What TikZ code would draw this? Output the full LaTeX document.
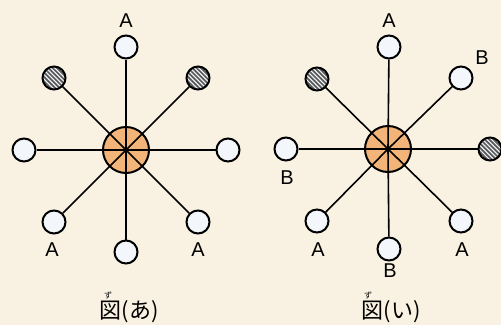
\documentclass[tikz,border=0pt]{standalone}
\usepackage{fontspec}
\setmainfont{Liberation Sans}
\newfontfamily\jp{Noto Sans CJK JP}
\definecolor{bg}{HTML}{F9F2E2}
\definecolor{hub}{HTML}{F2B478}
\definecolor{leaf}{HTML}{F3F6FA}
\definecolor{stripe}{HTML}{5A5A5A}
\begin{document}
\begin{tikzpicture}[x=1pt,y=-1pt,
  hubc/.style={circle,draw=black,line width=2pt,fill=hub,minimum size=46pt,inner sep=0pt},
  dot/.style={circle,fill=black,minimum size=4pt,inner sep=0pt},
  leafc/.style={circle,draw=black,line width=2pt,fill=leaf,minimum size=23pt,inner sep=0pt},
  hatchc/.style={circle,draw=black,line width=2pt,fill=leaf,minimum size=23pt,inner sep=0pt,
    path picture={\begin{scope}[shift={(path picture bounding box.center)}]
      \foreach \d in {-22,-17.6,...,22} \draw[stripe,line width=1.7pt] (\d-15,-15) -- (\d+15,15);
    \end{scope}}},
  spoke/.style={line width=1.6pt},
  lbl/.style={font=\fontsize{20}{20}\selectfont,inner sep=0pt},
  captext/.style={font=\jp\fontsize{22}{22}\selectfont,inner sep=0pt},
  ruby/.style={font=\jp\fontsize{8}{8}\selectfont,inner sep=0pt}]
\fill[bg] (0,0) rectangle (501,325);
\useasboundingbox (0,0) rectangle (501,325);
% ---- left figure
\node[hubc] (c1) at (126,150) {};
\node[leafc] (a1n) at (126,47) {};
\node[leafc] (a1s) at (126,252) {};
\node[leafc] (a1w) at (24,150) {};
\node[leafc] (a1e) at (228,150) {};
\node[hatchc] (a1nw) at (54,78) {};
\node[hatchc] (a1ne) at (198,78) {};
\node[leafc] (a1sw) at (54,222) {};
\node[leafc] (a1se) at (198,222) {};
\foreach \n in {a1n,a1s,a1w,a1e,a1nw,a1ne,a1sw,a1se} \draw[spoke] (c1.center) -- (\n);
\node[dot] (d1) at (c1.center) {};
\node[lbl] (la1) at (126,21) {A};
\node[lbl] (la2) at (52,250) {A};
\node[lbl] (la3) at (198,250) {A};
\node[captext] (cap1) at (129,312) {図(あ)};
\node[ruby] (r1) at (108,295) {ず};
% ---- right figure
\node[hubc] (c2) at (388,149) {};
\node[leafc] (b2n) at (389,47) {};
\node[leafc] (b2s) at (389,249) {};
\node[leafc] (b2w) at (286,149) {};
\node[hatchc] (b2e) at (490,149) {};
\node[hatchc] (b2nw) at (317,79) {};
\node[leafc] (b2ne) at (461,78) {};
\node[leafc] (b2sw) at (317,221) {};
\node[leafc] (b2se) at (461,221) {};
\foreach \n in {b2n,b2s,b2w,b2e,b2nw,b2ne,b2sw,b2se} \draw[spoke] (c2.center) -- (\n);
\node[dot] (d2) at (c2.center) {};
\node[lbl] (lb1) at (389,21) {A};
\node[lbl] (lb2) at (482,58) {B};
\node[lbl] (lb3) at (287,178) {B};
\node[lbl] (lb4) at (318,250) {A};
\node[lbl] (lb5) at (462,250) {A};
\node[lbl] (lb6) at (390,271) {B};
\node[captext] (cap2) at (391,312) {図(い)};
\node[ruby] (r2) at (368,295) {ず};
\end{tikzpicture}
\end{document}
